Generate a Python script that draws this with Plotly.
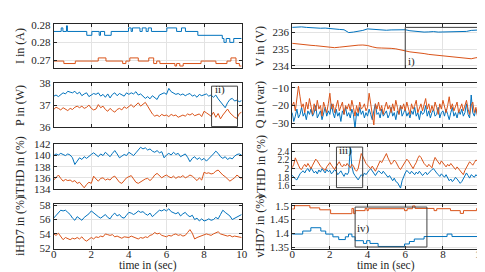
import numpy as np
import plotly.graph_objects as go

# ---------------- data ----------------
# I in (A)  (quantised step signals: change times and levels)
I_blue_t = [0, 0.40, 0.49, 0.68, 0.73, 1.76, 2.03, 2.42, 2.49, 2.71, 3.06, 3.98, 4.12, 4.19, 4.59, 4.71,
            4.92, 5.03, 5.20, 6.02, 6.54, 6.80, 7.01, 7.67, 8.97, 9.06, 9.18, 9.37, 9.58, 10]
I_blue = [0.2781, 0.2791, 0.2781, 0.2797, 0.2781, 0.2770, 0.2781, 0.2770, 0.2781, 0.2770, 0.2781, 0.2791,
          0.2781, 0.2791, 0.2781, 0.2791, 0.2781, 0.2791, 0.2781, 0.2791, 0.2781, 0.2791, 0.2781, 0.2770,
          0.2761, 0.2750, 0.2761, 0.2750, 0.2761, 0.2761]
I_orange_t = [0, 0.54, 1.15, 2.37, 2.78, 3.67, 3.84, 4.05, 4.50, 5.06, 5.32, 5.48, 5.65, 6.45, 6.54, 6.71,
              6.89, 7.84, 8.63, 9.22, 9.43, 9.70, 9.88, 10]
I_orange = [0.2697, 0.2690, 0.2697, 0.2706, 0.2697, 0.2690, 0.2697, 0.2706, 0.2697, 0.2706, 0.2690, 0.2697,
            0.2690, 0.2683, 0.2690, 0.2683, 0.2690, 0.2697, 0.2690, 0.2697, 0.2706, 0.2690, 0.2683, 0.2683]
I_tickvals = [0.27, 0.275, 0.28]
I_ticktext = ["0.27", "0.28", "0.28"]

# P in (W), iTHD, iHD7 sampled every 0.125 s
t81 = np.linspace(0, 10, 81)
P_blue = [37.40, 37.45, 37.38, 37.48, 37.55, 37.50, 37.62, 37.58,
          37.55, 37.62, 37.50, 37.58, 37.42, 37.50, 37.55, 37.38,
          37.45, 37.52, 37.48, 37.55, 37.40, 37.48, 37.35, 37.50,
          37.32, 37.48, 37.55, 37.42, 37.52, 37.45, 37.40, 37.55,
          37.48, 37.55, 37.50, 37.60, 37.45, 37.50, 37.40, 37.30,
          37.38, 37.28, 37.42, 37.35, 37.25, 37.45, 37.50, 37.55,
          37.48, 37.75, 37.60, 37.52, 37.48, 37.52, 37.45, 37.50,
          37.42, 37.48, 37.52, 37.40, 37.45, 37.35, 37.48, 37.42,
          37.45, 37.50, 37.40, 37.45, 37.35, 37.45, 37.28, 37.15,
          37.05, 36.88, 37.10, 37.25, 37.30, 37.18, 37.22, 37.15,
          37.20]
P_orange = [36.80, 36.90, 36.85, 36.78, 36.88, 36.82, 36.75, 36.85,
            36.80, 36.90, 36.95, 36.88, 36.95, 36.85, 36.90, 37.00,
            36.85, 36.78, 36.82, 37.02, 36.88, 36.95, 36.80, 36.72,
            36.85, 36.75, 36.68, 36.80, 36.85, 36.78, 36.92, 36.85,
            36.95, 37.02, 36.90, 36.98, 37.10, 36.95, 37.05, 37.12,
            36.95, 36.75, 36.60, 36.50, 36.55, 36.48, 36.58, 36.52,
            36.55, 36.48, 36.58, 36.52, 36.55, 36.45, 36.52, 36.55,
            36.50, 36.60, 36.55, 36.62, 36.52, 36.55, 36.60, 36.48,
            36.72, 36.65, 36.58, 36.50, 36.68, 36.45, 36.62, 36.38,
            36.55, 36.70, 36.82, 36.65, 36.55, 36.45, 36.40, 36.62,
            36.68]
iTHD_blue = [140.0, 140.3, 140.1, 140.4, 140.2, 140.0, 140.3, 140.1,
             139.6, 138.4, 139.0, 139.6, 139.3, 139.8, 139.5, 139.9,
             140.2, 140.5, 140.1, 139.8, 140.3, 140.0, 140.6, 140.2,
             139.8, 140.4, 140.9, 140.3, 139.6, 139.9, 140.2, 140.0,
             140.6, 140.3, 140.0, 140.5, 141.0, 141.5, 141.2, 141.4,
             141.0, 141.2, 140.8, 140.6, 140.9, 140.5, 140.7, 139.6,
             140.1, 140.4, 140.1, 140.6, 140.2, 140.4, 139.8, 140.0,
             140.3, 139.7, 138.9, 139.5, 139.8, 139.3, 139.6, 139.2,
             139.5, 139.0, 139.4, 139.8, 140.3, 140.8, 140.4, 139.8,
             139.5, 139.8, 139.3, 139.6, 139.4, 139.9, 140.2, 140.3,
             140.1]
iTHD_orange = [135.6, 136.0, 136.5, 135.9, 135.4, 135.7, 135.5, 135.6,
               135.3, 135.5, 135.0, 135.2, 134.6, 134.2, 134.8, 135.2,
               135.0, 136.3, 135.8, 135.4, 135.9, 136.0, 135.6, 135.8,
               135.6, 136.1, 136.3, 135.8, 135.2, 135.0, 135.6, 136.0,
               136.2, 136.4, 135.8, 135.2, 135.0, 135.3, 135.5, 135.8,
               135.9, 135.5, 135.9, 136.5, 136.8, 136.4, 136.0, 136.3,
               136.5, 136.2, 136.0, 136.3, 135.9, 136.2, 136.1, 136.4,
               136.0, 136.2, 136.5, 136.3, 135.8, 135.5, 136.0, 135.6,
               137.0, 136.8, 136.9, 136.7, 136.8, 137.2, 137.4, 136.9,
               136.5, 136.2, 135.8, 135.4, 135.7, 136.0, 136.5, 136.2,
               135.8]
iHD7_blue = [56.2, 56.6, 57.0, 57.3, 57.2, 57.3, 57.0, 56.7,
             56.2, 55.9, 56.4, 56.1, 55.9, 56.3, 56.5, 56.8,
             57.2, 56.9, 56.7, 56.4, 56.2, 56.5, 56.7, 56.3,
             56.1, 56.6, 56.9, 56.5, 56.7, 56.3, 56.2, 56.6,
             57.0, 56.9, 56.7, 56.9, 57.2, 57.0, 57.1, 56.8,
             56.6, 56.9, 56.4, 56.7, 57.0, 57.3, 57.2, 57.4,
             57.2, 57.5, 57.1, 57.0, 56.8, 57.0, 56.5, 56.8,
             57.0, 56.6, 56.4, 56.6, 56.0, 56.2, 55.8, 56.1,
             55.8, 55.9, 56.1, 55.9, 56.0, 56.3, 56.1, 56.7,
             57.3, 57.0, 56.8, 56.5, 56.0, 56.2, 56.4, 56.6,
             56.7]
iHD7_orange = [54.0, 53.8, 54.1, 53.6, 53.2, 53.5, 53.4, 53.2,
               53.4, 53.3, 53.5, 53.3, 53.6, 53.2, 53.0, 53.3,
               53.5, 53.3, 53.6, 53.5, 53.7, 53.6, 54.0, 53.9,
               53.8, 53.9, 53.6, 53.7, 53.5, 53.4, 53.6, 53.5,
               53.5, 53.7, 53.6, 53.4, 53.3, 53.5, 53.4, 53.6,
               53.5, 53.8, 53.9, 54.2, 54.0, 54.1, 53.8, 53.7,
               53.6, 53.8, 53.7, 53.9, 54.0, 53.8, 53.9, 53.7,
               53.8, 54.2, 54.6, 54.1, 53.3, 53.5, 53.6, 53.7,
               53.8, 54.0, 53.9, 53.8, 54.0, 54.2, 54.3, 54.0,
               53.9, 53.8, 53.7, 53.8, 53.6, 53.7, 53.6, 53.5,
               53.5]

# V in (V) sampled every 0.25 s
t41 = np.linspace(0, 10, 41)
V_blue = [236.30, 236.33, 236.33, 236.30, 236.27, 236.26, 236.25, 236.26, 236.22, 236.18, 236.18,
          236.16, 235.99, 236.02, 236.06, 236.12, 236.21, 236.19, 236.15, 236.16, 236.13, 236.15,
          236.14, 236.17, 236.16, 236.10, 236.06, 236.04, 236.02, 236.03, 236.05, 236.02, 236.03,
          236.05, 236.02, 236.03, 236.08, 236.06, 236.12, 236.13, 236.15]
V_orange = [235.35, 235.31, 235.27, 235.26, 235.23, 235.21, 235.19, 235.17, 235.14, 235.09, 235.12,
            235.16, 235.19, 235.21, 235.24, 235.25, 235.22, 235.14, 235.08, 235.07, 235.07, 235.05,
            235.02, 234.98, 234.90, 234.84, 234.82, 234.78, 234.74, 234.69, 234.66, 234.62, 234.59,
            234.57, 234.54, 234.52, 234.49, 234.46, 234.43, 234.49, 234.52]

# Q in (var) and vTHD sampled every 1/12 s
t121 = np.linspace(0, 10, 121)
Q_blue = [-24, -29, -26, -22, -27, -25, -21, -26, -24, -28, -23, -25,
          -22, -26, -24, -20, -27, -25, -23, -28, -24, -21, -26, -23,
          -25, -19, -24, -27, -22, -26, -24, -29, -23, -25, -21, -26,
          -24, -27, -22, -25, -33, -24, -26, -21, -25, -23, -27, -24,
          -26, -22, -25, -28, -23, -19, -25, -24, -27, -22, -26, -24,
          -23, -27, -25, -21, -26, -24, -28, -23, -25, -20, -26, -24,
          -22, -26, -24, -27, -23, -25, -21, -26, -24, -28, -23, -25,
          -24, -20, -26, -23, -27, -24, -22, -26, -25, -21, -27, -24,
          -23, -26, -22, -25, -28, -24, -21, -26, -24, -27, -23, -25,
          -22, -26, -24, -19, -25, -27, -14, -24, -26, -22, -25, -23,
          -24]
Q_orange = [-20, -18, -23, -17, -9, -15, -21, -19, -24, -18, -22, -16,
            -21, -25, -19, -23, -17, -22, -20, -26, -18, -21, -24, -19,
            -13, -22, -19, -24, -20, -17, -23, -21, -18, -25, -20, -22,
            -19, -23, -17, -21, -26, -20, -24, -18, -22, -21, -19, -23,
            -21, -13, -20, -24, -31, -19, -22, -18, -23, -20, -25, -21,
            -18, -22, -20, -24, -19, -23, -17, -21, -25, -20, -22, -19,
            -23, -18, -21, -25, -19, -22, -20, -17, -24, -21, -19, -23,
            -20, -16, -22, -19, -24, -20, -23, -18, -21, -25, -19, -22,
            -17, -21, -24, -20, -15, -22, -19, -23, -20, -18, -24, -21,
            -19, -23, -20, -17, -22, -25, -20, -18, -24, -21, -26, -22,
            -21]
vTHD_blue = [1.85, 1.80, 1.76, 1.74, 1.82, 1.88, 1.92, 1.95, 1.90, 1.97, 2.00, 1.93,
             2.02, 1.96, 1.90, 1.94, 1.88, 1.97, 1.92, 2.00, 1.95, 1.90, 1.98, 1.93,
             1.96, 1.88, 1.92, 1.98, 1.94, 1.86, 1.90, 1.95, 1.88, 1.82, 1.90, 1.86,
             1.92, 2.50, 2.05, 1.90, 1.84, 1.78, 1.74, 1.80, 1.86, 1.82, 1.90, 1.86,
             1.92, 1.96, 2.00, 1.94, 1.88, 1.84, 1.90, 1.95, 1.92, 1.88, 1.94, 1.90,
             1.86, 1.80, 1.84, 1.76, 1.72, 1.78, 1.70, 1.68, 1.62, 1.55, 1.72, 1.82,
             1.90, 1.96, 1.92, 1.88, 1.94, 1.90, 1.86, 1.92, 1.88, 1.94, 1.90, 1.84,
             1.88, 1.92, 1.86, 1.90, 1.95, 1.98, 2.00, 1.94, 1.90, 1.86, 1.82, 1.88,
             1.84, 1.80, 1.86, 1.78, 1.72, 1.76, 1.70, 1.74, 1.80, 1.76, 1.72, 1.66,
             1.70, 1.76, 1.82, 1.90, 1.84, 1.78, 1.86, 1.82, 1.80, 1.86, 1.82, 1.85,
             1.84]
vTHD_orange = [2.02, 2.10, 2.25, 2.18, 2.08, 2.00, 1.98, 2.05, 2.10, 2.04, 2.12, 2.06,
               2.00, 2.08, 2.15, 2.22, 2.18, 2.10, 2.06, 2.02, 2.00, 1.96, 2.04, 2.10,
               2.14, 2.08, 2.02, 1.98, 2.05, 2.12, 2.16, 2.08, 2.04, 2.10, 2.06, 2.12,
               2.08, 2.02, 2.10, 2.06, 1.98, 1.94, 2.00, 2.20, 2.35, 2.28, 2.18, 2.12,
               2.08, 2.04, 2.00, 2.06, 1.98, 1.94, 2.02, 2.10, 2.18, 2.14, 2.22, 2.30,
               2.35, 2.25, 2.16, 2.10, 2.14, 2.20, 2.16, 2.08, 2.02, 1.98, 2.04, 2.10,
               2.16, 2.22, 2.18, 2.12, 2.06, 2.00, 2.08, 2.14, 2.24, 2.30, 2.26, 2.18,
               2.12, 2.08, 2.04, 2.10, 2.06, 2.02, 2.16, 2.26, 2.20, 2.14, 2.10, 2.18,
               2.14, 2.08, 2.04, 2.10, 2.06, 2.12, 2.08, 2.02, 1.98, 2.04, 2.00, 1.94,
               1.90, 1.86, 1.96, 2.04, 2.10, 2.16, 2.12, 2.08, 2.14, 2.20, 2.18, 2.22,
               2.20]

# vHD7 in (%) (quantised step signals)
vHD7_orange_t = [0, 0.12, 0.94, 1.46, 2.04, 3.17, 3.26, 3.34, 3.87, 3.97, 4.04, 5.96, 6.10, 6.39, 6.52,
                 7.53, 7.67, 8.40, 8.92, 9.09, 9.79, 9.93, 10]
vHD7_orange = [1.488, 1.500, 1.492, 1.485, 1.471, 1.490, 1.471, 1.482, 1.490, 1.482, 1.489, 1.482, 1.489,
               1.499, 1.490, 1.482, 1.489, 1.482, 1.472, 1.482, 1.490, 1.482, 1.482]
vHD7_blue_t = [0, 0.56, 0.99, 1.52, 1.78, 2.16, 2.47, 2.82, 2.99, 3.17, 3.34, 3.78, 3.95, 4.13, 4.56,
               5.96, 6.22, 6.48, 7.00, 8.22, 8.48, 9.88, 10]
vHD7_blue = [1.397, 1.408, 1.420, 1.408, 1.397, 1.387, 1.377, 1.387, 1.397, 1.387, 1.373, 1.363, 1.373,
             1.363, 1.352, 1.361, 1.370, 1.379, 1.388, 1.397, 1.388, 1.379, 1.379]

time_ticks = [0, 2, 4, 6, 8, 10]

# ---------------- layout helpers ----------------
W, H = 485, 272
BLUE = "#0072BD"
ORANGE = "#D95319"
FONT = "Liberation Serif, Times New Roman, DejaVu Serif, serif"
TICK_SIZE = 11
TITLE_SIZE = 11.5
rows_px = [(10.5, 57), (72, 118.5), (136.5, 183), (198.5, 245.5)]
cols_px = [(43.5, 235), (286.5, 478.5)]


def ydom(r):
    top, bot = rows_px[r]
    return [1 - bot / H, 1 - top / H]


def xdom(c):
    l, r = cols_px[c]
    return [l / W, r / W]


panels = [
    # col, row, title, range, tickvals, ticktext, tick font size, [(t, y, color, shape)]
    (0, 0, "I in (A)", [0.2676, 0.2802], I_tickvals, I_ticktext, 11,
     [(I_blue_t, I_blue, BLUE, "hv"), (I_orange_t, I_orange, ORANGE, "hv")]),
    (0, 1, "P in (W)", [36, 38], [36, 37, 38], None, 11,
     [(t81, P_blue, BLUE, "linear"), (t81, P_orange, ORANGE, "linear")]),
    (0, 2, "iTHD in (%)", [134, 142], [134, 136, 138, 140, 142], None, 11,
     [(t81, iTHD_blue, BLUE, "linear"), (t81, iTHD_orange, ORANGE, "linear")]),
    (0, 3, "iHD7 in (%)", [51.95, 58.2], [52, 54, 56, 58], None, 11,
     [(t81, iHD7_blue, BLUE, "linear"), (t81, iHD7_orange, ORANGE, "linear")]),
    (1, 0, "V in (V)", [233.85, 236.5], [234, 235, 236], None, 11,
     [(t41, V_blue, BLUE, "linear"), (t41, V_orange, ORANGE, "linear")]),
    (1, 1, "Q in (var)", [-32.3, -7.1], [-30, -20, -10], ["\u221230", "\u221220", "\u221210"], 11,
     [(t121, Q_blue, BLUE, "linear"), (t121, Q_orange, ORANGE, "linear")]),
    (1, 2, "vTHD in (%)", [1.53, 2.56], [1.6, 1.8, 2.0, 2.2, 2.4], ["1.6", "1.8", "2", "2.2", "2.4"], 9.5,
     [(t121, vTHD_blue, BLUE, "linear"), (t121, vTHD_orange, ORANGE, "linear")]),
    (1, 3, "vHD7 in (%)", [1.344, 1.507], [1.35, 1.4, 1.45, 1.5], ["1.35", "1.4", "1.45", "1.5"], 11,
     [(vHD7_blue_t, vHD7_blue, BLUE, "hv"), (vHD7_orange_t, vHD7_orange, ORANGE, "hv")]),
]

fig = go.Figure()
layout = dict(width=W, height=H, margin=dict(l=0, r=0, t=0, b=0),
              paper_bgcolor="white", plot_bgcolor="white", showlegend=False,
              font=dict(family=FONT, size=TICK_SIZE, color="#262626"))
annotations = []
shapes = []

for k, (c, r, title, yr, tv, tt, tfs, series) in enumerate(panels, start=1):
    xa = "x" if k == 1 else f"x{k}"
    ya = "y" if k == 1 else f"y{k}"
    for (tx, ty, col, shp) in series:
        fig.add_trace(go.Scatter(x=tx, y=ty, mode="lines", xaxis=xa, yaxis=ya,
                                 line=dict(color=col, width=1, shape=shp), hoverinfo="skip"))
    axcommon = dict(showline=True, mirror="ticks", linecolor="#262626", linewidth=1,
                    gridcolor="#e3e3e3", gridwidth=1, ticks="inside", ticklen=3,
                    tickcolor="#262626", zeroline=False)
    layout["xaxis" if k == 1 else f"xaxis{k}"] = dict(
        domain=xdom(c), anchor=ya, range=[0, 10], tickvals=time_ticks,
        showticklabels=(r == 3), ticklabelstandoff=-5,
        tickfont=dict(family=FONT, size=TICK_SIZE, color="#262626"), **axcommon)
    ydict = dict(domain=ydom(r), anchor=xa, range=yr, tickvals=tv,
                 tickfont=dict(family=FONT, size=tfs, color="#262626"), **axcommon)
    if tt is not None:
        ydict["ticktext"] = tt
    layout["yaxis" if k == 1 else f"yaxis{k}"] = ydict
    # y-axis title
    top, bot = rows_px[r]
    annotations.append(dict(text=title, textangle=-90, xref="paper", yref="paper",
                            x=(9 if c == 0 else 254) / W, y=1 - (top + bot) / 2 / H,
                            showarrow=False, xanchor="center", yanchor="middle",
                            font=dict(family=FONT, size=12, color="#262626")))

for c in range(2):
    l, rr = cols_px[c]
    annotations.append(dict(text="time in (sec)", xref="paper", yref="paper",
                            x=(l + rr) / 2 / W, y=1 - 263.5 / H, showarrow=False,
                            xanchor="center", yanchor="middle",
                            font=dict(family=FONT, size=TITLE_SIZE, color="#262626")))

# zoom boxes
boxes = [
    ("x5", "y5", 6.0, 10.0, 233.85, 236.30, "i)", 6.05, 234.25),
    ("x2", "y2", 8.40, 9.78, 36.03, 37.85, "ii)", 8.45, 37.68),
    ("x7", "y7", 2.35, 3.74, 1.56, 2.50, "iii)", 2.38, 2.42),
    ("x8", "y8", 3.34, 7.15, 1.35, 1.495, "iv)", 3.32, 1.417),
]
for xr, yr_, x0, x1, y0, y1, lab, lx, ly in boxes:
    shapes.append(dict(type="rect", xref=xr, yref=yr_, x0=x0, x1=x1, y0=y0, y1=y1,
                       line=dict(color="#404040", width=1)))
    annotations.append(dict(text=lab, xref=xr, yref=yr_, x=lx, y=ly, showarrow=False,
                            xanchor="left", yanchor="middle",
                            font=dict(family=FONT, size=11, color="#262626")))

layout["annotations"] = annotations
layout["shapes"] = shapes
fig.update_layout(**layout)
fig.write_html("out.html")
